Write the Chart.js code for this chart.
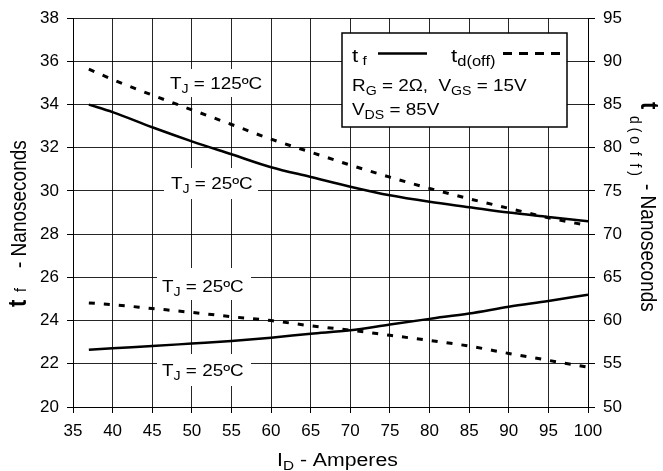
<!DOCTYPE html>
<html lang="en">
<head>
  <meta charset="UTF-8">
  <title>tf and td(off) vs ID</title>
  <script src="https://cdn.jsdelivr.net/npm/chart.js"></script>
  <style>
    body { margin: 0; background: #fff; }
    #wrap { width: 663px; height: 471px; }
  </style>
</head>
<body>
  <div id="wrap"><canvas id="grafico" width="663" height="471"></canvas></div>

  <script>
    // values
    const currents = [37, 40, 45, 50, 55, 60, 65, 70, 75, 80, 85, 90, 95, 100];
    const tfHot = [34.0, 33.65, 32.95, 32.3, 31.7, 31.1, 30.65, 30.2, 29.8, 29.5, 29.25, 29.0, 28.8, 28.6];
    const tdHot = [89.1, 87.9, 86.1, 84.4, 82.7, 81.0, 79.5, 78.0, 76.6, 75.3, 74.1, 73.0, 71.9, 71.0];
    const tfCold = [22.65, 22.72, 22.82, 22.94, 23.06, 23.21, 23.39, 23.55, 23.82, 24.08, 24.33, 24.64, 24.91, 25.2];
    const tdCold = [62.05, 61.85, 61.4, 60.95, 60.45, 60.0, 59.4, 58.9, 58.3, 57.7, 57.05, 56.2, 55.4, 54.6];

    const xTicks = [35, 100, 5];   // min, max, step
    const yTicks = [20, 38, 2];
    const y1Ticks = [50, 95, 5];

    const FONT = "'Liberation Sans', Arial, sans-serif";
    const SX = 1.18; // the original text is a bit wide

    function pts(ys) {
      return currents.map((x, i) => ({ x: x, y: ys[i] }));
    }

    // draws pieces of text: each piece [text, font, dx, dy]
    function put(ctx, x, y, rot, pieces) {
      ctx.save();
      ctx.translate(x, y);
      ctx.scale(SX, 1);
      ctx.rotate(rot);
      ctx.fillStyle = '#000';
      ctx.textBaseline = 'alphabetic';
      ctx.textAlign = 'left';
      let cx = 0;
      pieces.forEach(p => {
        ctx.font = p[1];
        if (p[2] !== undefined && p[2] !== null) cx = p[2];
        ctx.fillText(p[0], cx, p[3] || 0);
        cx += ctx.measureText(p[0]).width;
      });
      ctx.restore();
    }

    const f = (s, w) => (w || '') + ' ' + s + 'px ' + FONT;

    const extras = {
      id: 'extras',
      beforeDatasetsDraw(chart) {
        const ctx = chart.ctx;
        ctx.save();
        ctx.fillStyle = '#fff';
        ctx.fillRect(162, 69, 106, 28);
        ctx.fillRect(164, 168, 94, 31);
        ctx.fillRect(157, 268, 94, 32);
        ctx.fillRect(157, 354, 94, 32);
        ctx.restore();
        put(ctx, 170, 88.5, 0, [['T', f(16)], ['J', f(12), null, 4], [' = 125ºC', f(16)]]);
        put(ctx, 171, 189, 0, [['T', f(16)], ['J', f(12), null, 4], [' = 25ºC', f(16)]]);
        put(ctx, 162, 291.5, 0, [['T', f(16)], ['J', f(12), null, 4], [' = 25ºC', f(16)]]);
        put(ctx, 162, 375.5, 0, [['T', f(16)], ['J', f(12), null, 4], [' = 25ºC', f(16)]]);
      },
      afterDraw(chart) {
        const ctx = chart.ctx;
        // legend box
        ctx.save();
        ctx.fillStyle = '#fff';
        ctx.fillRect(342, 33, 225, 94);
        ctx.strokeStyle = '#000';
        ctx.lineWidth = 1.5;
        ctx.strokeRect(342, 33, 225, 94);
        ctx.lineWidth = 2.5;
        ctx.beginPath();
        ctx.moveTo(378, 53.5);
        ctx.lineTo(427, 53.5);
        ctx.stroke();
        ctx.lineWidth = 3;
        ctx.setLineDash([9, 7]);
        ctx.beginPath();
        ctx.moveTo(503, 53.5);
        ctx.lineTo(562, 53.5);
        ctx.stroke();
        ctx.restore();

        put(ctx, 352, 62, 0, [['t', f(19)], [' f', f(13), null, 3]]);
        put(ctx, 451, 62, 0, [['t', f(19)], ['d(off)', f(14), null, 4]]);
        put(ctx, 352, 91, 0, [['R', f(16)], ['G', f(12), null, 4], [' = 2Ω,  V', f(16)], ['GS', f(12), null, 4], [' = 15V', f(16)]]);
        put(ctx, 352, 115, 0, [['V', f(16)], ['DS', f(12), null, 4], [' = 85V', f(16)]]);

        // axis titles
        put(ctx, 277, 466, 0, [['I', f(18)], ['D', f(13), null, 4], [' - Amperes', f(18)]]);
        put(ctx, 25.5, 307, -Math.PI / 2, [['t', f(22, 'bold')], ['f', f(14), 15, 0], ['- Nanoseconds', f(19), 39, 0]]);
        put(ctx, 641, 102, Math.PI / 2, [['t', f(22, 'bold')], ['d ( o  f  f )', f(14), 14, 9], ['- Nanoseconds', f(19), 82, 0]]);
      }
    };

    const grid = { color: 'rgba(0,0,0,0.85)', lineWidth: 1, tickLength: 6, tickColor: '#000' };
    const tickFont = { family: FONT, size: 17 };

    new Chart(document.getElementById('grafico'), {
      type: 'line',
      data: {
        datasets: [
          { label: 'tf 125', data: pts(tfHot), yAxisID: 'y', borderColor: '#000', borderWidth: 2.5, pointRadius: 0, cubicInterpolationMode: 'monotone' },
          { label: 'td(off) 125', data: pts(tdHot), yAxisID: 'y1', borderColor: '#000', borderWidth: 3, borderDash: [6, 9], pointRadius: 0, cubicInterpolationMode: 'monotone' },
          { label: 'tf 25', data: pts(tfCold), yAxisID: 'y', borderColor: '#000', borderWidth: 2.5, pointRadius: 0, cubicInterpolationMode: 'monotone' },
          { label: 'td(off) 25', data: pts(tdCold), yAxisID: 'y1', borderColor: '#000', borderWidth: 3, borderDash: [6, 9], pointRadius: 0, cubicInterpolationMode: 'monotone' }
        ]
      },
      options: {
        responsive: false,
        animation: false,
        devicePixelRatio: 1,
        layout: { padding: { top: 15, left: 0, right: 0, bottom: 0 } },
        plugins: { legend: { display: false }, tooltip: { enabled: false } },
        scales: {
          x: {
            type: 'linear', min: xTicks[0], max: xTicks[1],
            ticks: { stepSize: xTicks[2], color: '#000', font: tickFont, padding: 8, maxRotation: 0, autoSkip: false },
            grid: grid,
            border: { color: '#000', width: 1 },
            afterFit: s => { s.height = 64; }
          },
          y: {
            position: 'left', min: yTicks[0], max: yTicks[1],
            ticks: { stepSize: yTicks[2], color: '#000', font: tickFont, padding: 8 },
            grid: grid,
            border: { color: '#000', width: 1 },
            afterFit: s => { s.width = 73; }
          },
          y1: {
            position: 'right', min: y1Ticks[0], max: y1Ticks[1],
            ticks: { stepSize: y1Ticks[2], color: '#000', font: tickFont, padding: 8 },
            grid: { drawOnChartArea: false, tickLength: 7, tickColor: '#000' },
            border: { color: '#000', width: 1 },
            afterFit: s => { s.width = 75; }
          }
        }
      },
      plugins: [extras]
    });
  </script>
</body>
</html>
